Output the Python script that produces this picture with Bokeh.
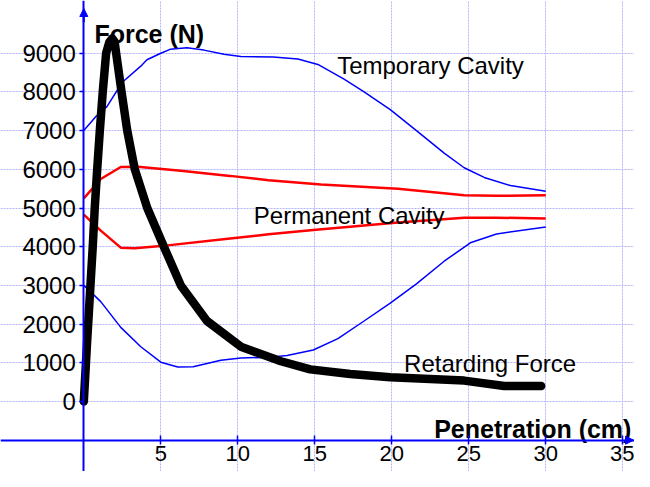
from bokeh.plotting import figure
from bokeh.models import Range1d, LinearAxis, FixedTicker, Arrow, NormalHead
from bokeh.core.properties import value
from bokeh.embed import file_html
from bokeh.resources import INLINE

# ---- data ----
x_ticks = [5, 10, 15, 20, 25, 30, 35]
x_tick_labels = ["5", "10", "15", "20", "25", "30", "35"]
y_ticks = [0, 1000, 2000, 3000, 4000, 5000, 6000, 7000, 8000, 9000]
y_tick_labels = ["0", "1000", "2000", "3000", "4000", "5000", "6000", "7000", "8000", "9000"]

tc_upper_x = [0, 0.8, 1.5, 2.5, 3.7, 4.1, 5, 5.6, 6.7, 7.8, 9.1, 10.2, 12.3, 13.9, 15.2, 16.9, 18.2, 19.9, 21.6, 23.4, 24.7, 26.0, 27.7, 30]
tc_upper_y = [7000, 7370, 7620, 8250, 8665, 8830, 9000, 9100, 9140, 9080, 8975, 8915, 8900, 8850, 8710, 8330, 8000, 7540, 7000, 6420, 6040, 5790, 5580, 5430]

tc_lower_x = [0, 1.1, 2.4, 3.7, 5, 6.1, 7.1, 8.9, 10.2, 11.9, 13.2, 14.9, 16.5, 18.2, 19.9, 21.6, 23.4, 25.1, 26.8, 30]
tc_lower_y = [3000, 2580, 1915, 1415, 1015, 890, 900, 1065, 1125, 1140, 1190, 1330, 1625, 2080, 2540, 3040, 3625, 4100, 4330, 4510]

pc_upper_x = [0, 1.1, 2.4, 3.5, 6.3, 9.5, 12, 15.4, 20.4, 24.7, 26.8, 30]
pc_upper_y = [5250, 5750, 6060, 6065, 5960, 5830, 5720, 5610, 5500, 5330, 5315, 5330]

pc_lower_x = [0, 1.1, 2.4, 3.3, 5, 9.5, 12, 14.9, 20.4, 24.7, 26.8, 30]
pc_lower_y = [4830, 4415, 3975, 3960, 4015, 4210, 4320, 4430, 4625, 4750, 4750, 4730]

rf_x = [0, 0.22, 0.58, 0.71, 0.87, 1.04, 1.23, 1.45, 1.65, 1.84, 2.0, 2.1, 2.45, 2.82, 3.31, 4.12, 5.2, 6.3, 8.0, 10.2, 12.8, 14.7, 17.3, 19.9, 24.7, 27.3, 29.7]
rf_y = [0, 1580, 4000, 5000, 6000, 7000, 8000, 9000, 9280, 9380, 9300, 9000, 8000, 7000, 6000, 5000, 4000, 3000, 2080, 1415, 1040, 830, 710, 625, 540, 400, 400]

label_text = ["Temporary Cavity", "Permanent Cavity", "Retarding Force"]
label_x = [16.45, 11.04, 20.8]
label_y = [8690, 4808, 983]

FONT = "Liberation Sans"
BLUE = "#0000FF"

p = figure(width=634, height=471, output_backend="svg", toolbar_location=None,
           x_range=Range1d(-5.41, 35.76), y_range=Range1d(-1809, 10362),
           x_axis_location=None, y_axis_location=None, min_border=0,
           outline_line_color=None, background_fill_color="white")

# axes crossing inside the plot
xaxis = LinearAxis(fixed_location=-1000, ticker=FixedTicker(ticks=x_ticks),
                   major_label_overrides=dict(zip(x_ticks, x_tick_labels)))
yaxis = LinearAxis(fixed_location=0, ticker=FixedTicker(ticks=y_ticks),
                   major_label_overrides=dict(zip(y_ticks, y_tick_labels)))
for ax in (xaxis, yaxis):
    ax.axis_line_color = BLUE
    ax.axis_line_width = 2
    ax.major_tick_line_color = BLUE
    ax.major_tick_line_width = 1.5
    ax.minor_tick_line_color = None
    ax.major_label_text_font = FONT
    ax.major_label_text_color = "black"
xaxis.major_label_text_font_size = "22px"
yaxis.major_label_text_font_size = "24px"
xaxis.major_tick_in = 5
xaxis.major_tick_out = 4
xaxis.major_label_standoff = 2
yaxis.major_tick_in = 0
yaxis.major_tick_out = 4
yaxis.major_label_standoff = 4
p.add_layout(xaxis, "below")
p.add_layout(yaxis, "left")

# grid
p.xgrid.ticker = FixedTicker(ticks=x_ticks)
p.ygrid.ticker = FixedTicker(ticks=y_ticks)
for g in (p.xgrid, p.ygrid):
    g.grid_line_color = "#b4b4ff"
    g.grid_line_width = 1
    g.grid_line_dash = "2 1"

# arrow heads on axes
p.add_layout(Arrow(x_start=35.2, y_start=-1000, x_end=35.7, y_end=-1000, line_color=BLUE, line_width=2,
                   end=NormalHead(size=8, fill_color=BLUE, line_color=BLUE)))
p.add_layout(Arrow(x_start=0, y_start=9800, x_end=0, y_end=10155, line_color=BLUE, line_width=2,
                   end=NormalHead(size=8, fill_color=BLUE, line_color=BLUE)))

# curves
p.line(tc_upper_x, tc_upper_y, line_color=BLUE, line_width=1.5)
p.line(tc_lower_x, tc_lower_y, line_color=BLUE, line_width=1.5)
p.line(pc_upper_x, pc_upper_y, line_color="#FF0000", line_width=2.5)
p.line(pc_lower_x, pc_lower_y, line_color="#FF0000", line_width=2.5)
p.line(rf_x, rf_y, line_color="black", line_width=8.5, line_cap="round", line_join="round")

# labels
p.text(x=label_x, y=label_y, text=label_text, text_font=value(FONT), text_font_size="24px",
       text_color="black", text_baseline="alphabetic", text_align="left")
p.text(x=[0.69], y=[9509], text=["Force (N)"], text_font=value(FONT), text_font_size="25px",
       text_font_style="bold", text_color="black", text_baseline="alphabetic", text_align="left")
p.text(x=[35.56], y=[-716], text=["Penetration (cm)"], text_font=value(FONT), text_font_size="25px",
       text_font_style="bold", text_color="black", text_baseline="alphabetic", text_align="right")

open("out.html", "w").write(file_html(p, INLINE))
